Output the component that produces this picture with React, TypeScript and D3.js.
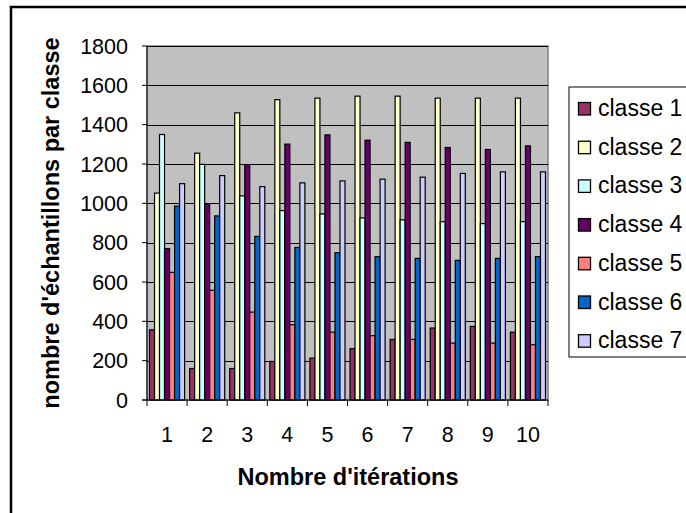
import React from "react";
import * as d3 from "d3";

const iterations = ["1", "2", "3", "4", "5", "6", "7", "8", "9", "10"];
const seriesNames = ["classe 1", "classe 2", "classe 3", "classe 4", "classe 5", "classe 6", "classe 7"];
const classe1 = [357, 160, 160, 196, 213, 261, 308, 366, 374, 345];
const classe2 = [1052, 1255, 1460, 1527, 1535, 1545, 1545, 1535, 1535, 1535];
const classe3 = [1350, 1198, 1038, 963, 946, 926, 916, 907, 897, 907];
const classe4 = [770, 995, 1197, 1301, 1348, 1321, 1310, 1284, 1274, 1292];
const classe5 = [649, 558, 447, 383, 345, 327, 308, 289, 289, 281];
const classe6 = [986, 936, 832, 776, 749, 729, 720, 710, 720, 729];
const classe7 = [1100, 1141, 1085, 1104, 1114, 1123, 1133, 1152, 1160, 1160];
const allSeries = [classe1, classe2, classe3, classe4, classe5, classe6, classe7];
const colors = ["#993366", "#FFFFCC", "#CCFFFF", "#660066", "#FF8080", "#0066CC", "#CCCCFF"];
const yTicks = [0, 200, 400, 600, 800, 1000, 1200, 1400, 1600, 1800];

const W = 686;
const H = 513;
const plot = { left: 147, right: 548, top: 46, bottom: 400 };
const font = "Arial, 'Liberation Sans', sans-serif";

export default function App() {
  const x0 = d3.scaleBand<string>().domain(iterations).range([plot.left, plot.right]).paddingInner(0).paddingOuter(0);
  const x1 = d3.scaleBand<string>().domain(seriesNames).range([0, x0.bandwidth()]).paddingInner(0).paddingOuter(0.5);
  const y = d3.scaleLinear().domain([0, 1800]).range([plot.bottom, plot.top]);

  const legend = { x: 569, y: 87, w: 140, h: 270, rowStart: 108.5, rowStep: 38.7 };

  return (
    <svg width={W} height={H} style={{ position: "absolute", left: 0, top: 0, background: "#fff" }}
      xmlns="http://www.w3.org/2000/svg">
      <rect x={0} y={0} width={W} height={H} fill="#fff" />
      {/* outer chart border */}
      <rect x={11} y={7} width={W + 20} height={H + 20} fill="#fff" stroke="#000" strokeWidth={2.5} />
      {/* plot area */}
      <rect x={plot.left} y={plot.top} width={plot.right - plot.left} height={plot.bottom - plot.top}
        fill="#C0C0C0" stroke="#808080" strokeWidth={1.5} />
      {/* gridlines */}
      {yTicks.filter((t) => t > 0).map((t) => (
        <line key={"g" + t} x1={plot.left} x2={plot.right} y1={Math.round(y(t)) + 0.5} y2={Math.round(y(t)) + 0.5}
          stroke="#000" strokeWidth={1} />
      ))}
      {/* bars */}
      {iterations.map((it, i) => (
        <g key={it} transform={`translate(${x0(it)},0)`}>
          {seriesNames.map((s, j) => {
            const v = allSeries[j][i];
            return (
              <rect key={s} x={x1(s)} y={y(v)} width={x1.bandwidth()} height={y(0) - y(v)}
                fill={colors[j]} stroke="#000" strokeWidth={1.2} />
            );
          })}
        </g>
      ))}
      {/* axes */}
      <line x1={plot.left} x2={plot.left} y1={plot.top} y2={plot.bottom} stroke="#000" strokeWidth={1} />
      <line x1={plot.left - 5} x2={plot.right} y1={plot.bottom} y2={plot.bottom} stroke="#000" strokeWidth={1} />
      {yTicks.map((t) => (
        <g key={"t" + t}>
          <line x1={plot.left - 5} x2={plot.left} y1={y(t)} y2={y(t)} stroke="#000" strokeWidth={1} />
          <text x={128} y={y(t)} dy="0.36em" textAnchor="end" fontFamily={font} fontSize={21.5}>{t}</text>
        </g>
      ))}
      {iterations.map((it) => (
        <line key={"xt" + it} x1={x0(it)} x2={x0(it)} y1={plot.bottom} y2={plot.bottom + 6} stroke="#000" />
      ))}
      <line x1={plot.right} x2={plot.right} y1={plot.bottom} y2={plot.bottom + 6} stroke="#000" />
      {iterations.map((it) => (
        <text key={"xl" + it} x={(x0(it) as number) + x0.bandwidth() / 2} y={442} textAnchor="middle"
          fontFamily={font} fontSize={21.5}>{it}</text>
      ))}
      {/* axis titles */}
      <text x={348} y={485} textAnchor="middle" fontFamily={font} fontSize={23.5} fontWeight="bold">
        Nombre d'itérations
      </text>
      <text transform={`translate(59,${(plot.top + plot.bottom) / 2}) rotate(-90)`} textAnchor="middle"
        fontFamily={font} fontSize={23.5} fontWeight="bold">
        nombre d'échantillons par classe
      </text>
      {/* legend */}
      <rect x={legend.x} y={legend.y} width={legend.w} height={legend.h} fill="#fff" stroke="#000" strokeWidth={1} />
      {seriesNames.map((s, j) => {
        const cy = legend.rowStart + j * legend.rowStep;
        return (
          <g key={"lg" + s}>
            <rect x={578.5} y={cy - 6} width={12} height={12.5} fill={colors[j]} stroke="#000" strokeWidth={1.3} />
            <text x={598} y={cy + 7.5} fontFamily={font} fontSize={23}>{s}</text>
          </g>
        );
      })}
    </svg>
  );
}
